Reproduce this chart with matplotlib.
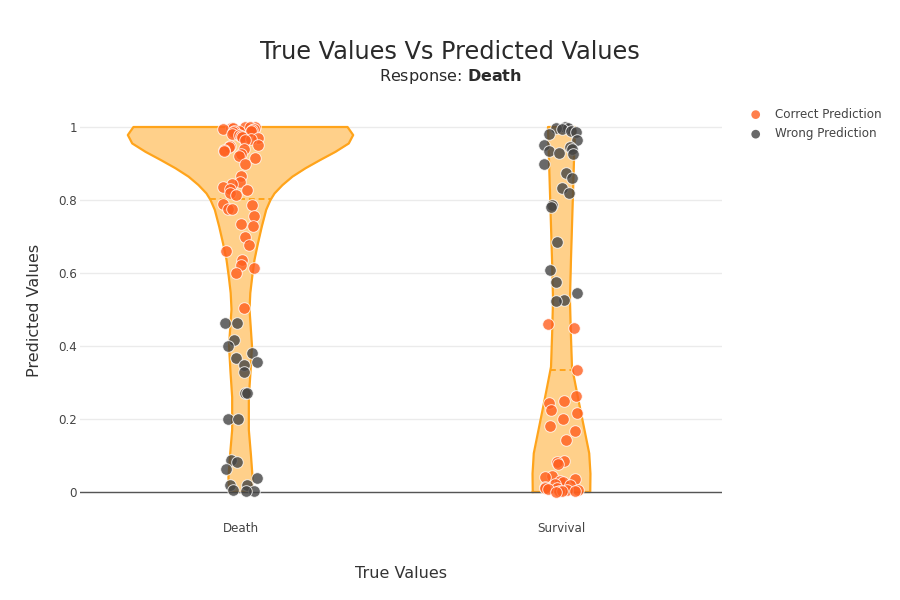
import matplotlib.pyplot as plt
import numpy as np

# categories on the x axis
categories = ["Death", "Survival"]

# predicted values, split by true class and outcome
death_correct = [1.0, 1.0, 1.0, 0.998, 0.997, 0.995, 0.995, 0.993, 0.99, 0.99,
                 0.988, 0.985, 0.98, 0.978, 0.975, 0.972, 0.97, 0.968, 0.965,
                 0.95, 0.948, 0.945, 0.94, 0.938, 0.935, 0.925, 0.92, 0.915, 0.90,
                 0.865, 0.85, 0.845, 0.835, 0.83, 0.828, 0.82, 0.815,
                 0.79, 0.785, 0.775, 0.775, 0.755, 0.735, 0.73, 0.70, 0.678,
                 0.66, 0.635, 0.622, 0.615, 0.60, 0.505]
death_wrong = [0.463, 0.463, 0.416, 0.40, 0.38, 0.368, 0.357, 0.347, 0.33, 0.27,
               0.27, 0.20, 0.20, 0.088, 0.083, 0.063, 0.038, 0.02, 0.02, 0.005,
               0.003, 0.002]
survival_correct = [0.46, 0.45, 0.335, 0.263, 0.25, 0.245, 0.225, 0.217, 0.20,
                    0.18, 0.167, 0.142, 0.085, 0.082, 0.077, 0.045, 0.04, 0.035,
                    0.03, 0.027, 0.022, 0.02, 0.015, 0.012, 0.01, 0.008, 0.006,
                    0.005, 0.004, 0.003, 0.002, 0.001]
survival_wrong = [1.0, 0.998, 0.997, 0.995, 0.99, 0.985, 0.98, 0.965, 0.95, 0.945,
                  0.94, 0.935, 0.93, 0.925, 0.90, 0.875, 0.86, 0.833, 0.82, 0.785,
                  0.78, 0.685, 0.608, 0.575, 0.545, 0.525, 0.523]

# violin outlines: relative density (1 = widest violin) read at these levels
death_levels = [0, 0.04, 0.10, 0.17, 0.26, 0.33, 0.40, 0.46, 0.50, 0.545, 0.59,
                0.636, 0.68, 0.727, 0.773, 0.80, 0.818, 0.841, 0.864, 0.887,
                0.91, 0.932, 0.955, 0.978, 1.0]
death_density = [0.10, 0.107, 0.093, 0.074, 0.074, 0.089, 0.102, 0.089, 0.08,
                 0.087, 0.104, 0.124, 0.154, 0.189, 0.228, 0.266, 0.302, 0.373,
                 0.461, 0.577, 0.71, 0.843, 0.961, 1.0, 0.95]
survival_levels = [0, 0.05, 0.106, 0.161, 0.234, 0.289, 0.343, 0.435, 0.526,
                   0.636, 0.727, 0.818, 0.91, 1.0]
survival_density = [0.255, 0.257, 0.246, 0.21, 0.162, 0.127, 0.093, 0.083, 0.075,
                    0.084, 0.093, 0.102, 0.111, 0.12]

correct = [death_correct, survival_correct]
wrong = [death_wrong, survival_wrong]
levels = [death_levels, survival_levels]
density = [death_density, survival_density]

LINE = '#FFA41B'
FILL = '#FFD08A'
C_OK = '#FF5F1F'
C_BAD = '#444444'
HALF = 0.351  # half width of the widest violin, in category units

fig = plt.figure(figsize=(9, 6), dpi=100)
ax = fig.add_axes([80 / 900, 80 / 600, 642 / 900, 420 / 600])

for i in range(len(categories)):
    lv = np.array(levels[i])
    w = np.array(density[i]) * HALF
    ax.fill_betweenx(lv, i - w, i + w, color=FILL, lw=0, zorder=1)
    ax.plot(np.r_[i - w, (i + w)[::-1], (i - w)[0]],
            np.r_[lv, lv[::-1], lv[0]], color=LINE, lw=1.6, zorder=2)
    med = np.median(correct[i] + wrong[i])
    wm = np.interp(med, lv, w)
    ax.plot([i - wm, i + wm], [med, med], color=LINE, lw=1.4, ls=(0, (3, 2)), zorder=2)

# jittered points
rng = np.random.default_rng(7)
for i in range(len(categories)):
    for vals, col, lab in [(correct[i], C_OK, "Correct Prediction"),
                           (wrong[i], C_BAD, "Wrong Prediction")]:
        xs = i + rng.uniform(-0.055, 0.055, len(vals))
        ax.scatter(xs, vals, s=70, color=col, alpha=0.8, edgecolor='white',
                   linewidth=0.7, zorder=3, label=lab if i == 0 else None)

ax.axhline(0, color='#555555', lw=1, zorder=2.5)
ax.set_xlim(-0.5, 1.5)
ax.set_ylim(-0.0767, 1.074)
ax.set_xticks(range(len(categories)))
ax.set_xticklabels(categories)
ax.set_yticks([0, 0.2, 0.4, 0.6, 0.8, 1])
ax.set_yticklabels(["0", "0.2", "0.4", "0.6", "0.8", "1"])
ax.tick_params(length=0, labelsize=8.6, labelcolor='#444444')
ax.tick_params(axis='x', pad=1.5)
ax.tick_params(axis='y', pad=2)
ax.grid(axis='y', color='#ebebeb', lw=1)
ax.set_axisbelow(True)
for s in ax.spines.values():
    s.set_visible(False)

ax.set_xlabel("True Values", fontsize=11.5, color='#333333', labelpad=22)
ax.set_ylabel("Predicted Values", fontsize=11.5, color='#333333', labelpad=12)

fig.text(0.5, 1 - 52 / 600, "True Values Vs Predicted Values", ha='center',
         va='center', fontsize=17.3, color='#2a2a2a')
fig.text(0.5, 1 - 76 / 600, r"Response: $\bf{Death}$", ha='center', va='center',
         fontsize=11.5, color='#2a2a2a')

leg = ax.legend(loc='upper left', bbox_to_anchor=(653 / 642, 1 + 3 / 420),
                frameon=False, fontsize=8.6, handletextpad=0.6, labelspacing=0.55,
                markerscale=0.75)
for t in leg.get_texts():
    t.set_color('#444444')
for h in leg.legend_handles:
    h.set_edgecolor('none')

fig.savefig("out.png", dpi=100)
